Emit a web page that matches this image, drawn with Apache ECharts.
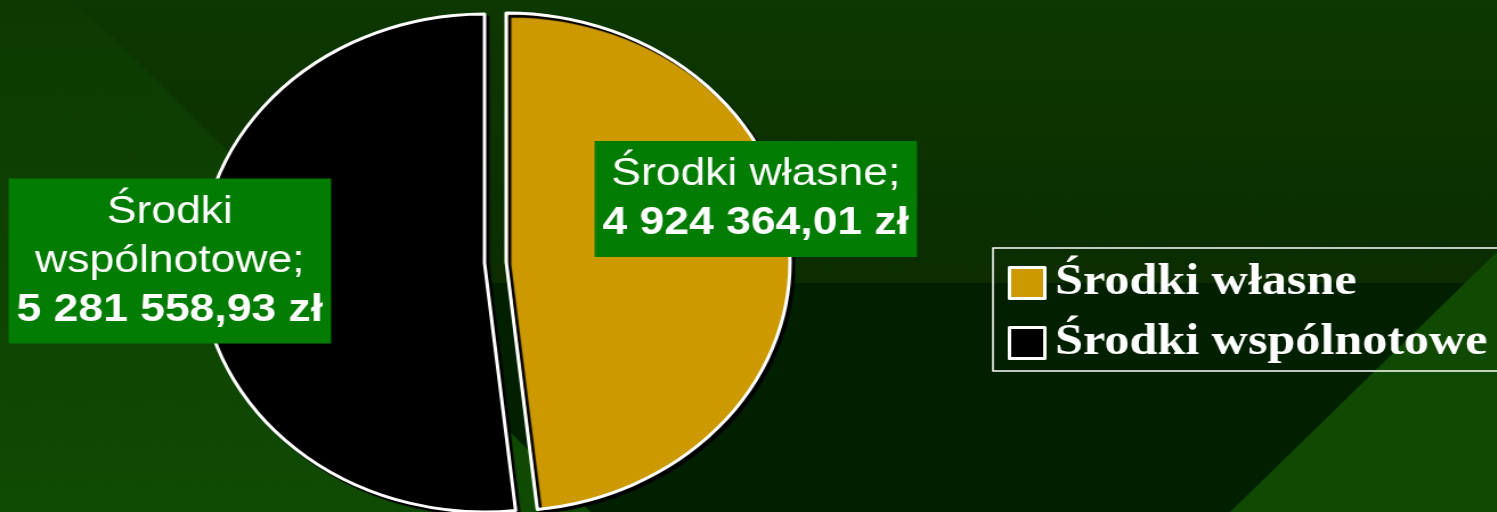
<!DOCTYPE html>
<html lang="pl">
<head>
    <meta charset="UTF-8">
    <title>Środki</title>
    <script src="https://cdn.jsdelivr.net/npm/echarts@6/dist/echarts.min.js"></script>
    <style>
        html, body { margin: 0; padding: 0; background: #0c3400; overflow: hidden; }
        /* the original slide is stretched sideways, so the whole chart is drawn narrower and scaled */
        #main { width: 1313px; height: 512px; transform: scaleX(1.14); transform-origin: 0 0; }
    </style>
</head>
<body>
    <div id="main"></div>
    <script type="text/javascript">
        // dane
        var categories = ['Środki własne', 'Środki wspólnotowe'];
        var values = [4924364.01, 5281558.93];
        var colors = ['#cc9900', '#000000'];

        // 4924364.01 -> "4 924 364,01 zł"
        function formatZl(v) {
            var parts = v.toFixed(2).split('.');
            var intPart = parts[0].replace(/\B(?=(\d{3})+(?!\d))/g, ' ');
            return intPart + ',' + parts[1] + ' zł';
        }

        // label box centres (chart coordinates, before the stretch)
        var labelSpots = [[663, 199], [149, 261]];

        var pieCenter = [425, 263];
        var pieRadius = 249;
        var explode = 19; // the gold slice is pulled out by this much

        // pull-out direction = middle angle of the first slice (clockwise from 12 o'clock)
        var total = values[0] + values[1];
        var midAngle = Math.PI * values[0] / total;
        var goldCenter = [
            pieCenter[0] + explode * Math.sin(midAngle),
            pieCenter[1] - explode * Math.cos(midAngle)
        ];

        var myChart = echarts.init(document.getElementById('main'));

        // one pie per slice, the other slice kept as an invisible placeholder
        function sliceData(visibleIndex) {
            return categories.map(function (name, i) {
                if (i === visibleIndex) {
                    return { name: name, value: values[i], itemStyle: { color: colors[i] } };
                }
                return {
                    name: name,
                    value: values[i],
                    itemStyle: { color: 'transparent', borderWidth: 0, shadowColor: 'transparent' },
                    label: { show: false }
                };
            });
        }

        var baseSeries = {
            type: 'pie',
            radius: pieRadius,
            startAngle: 90,
            clockwise: true,
            silent: true,
            itemStyle: {
                borderColor: '#ffffff',
                borderWidth: 3,
                shadowColor: '#000000',
                shadowBlur: 1,
                shadowOffsetX: 3,
                shadowOffsetY: 3
            },
            emphasis: { disabled: true },
            label: {
                show: true,
                position: 'inside',
                backgroundColor: '#027c02',
                padding: [9, 7],
                color: '#ffffff',
                fontFamily: 'Liberation Sans',
                formatter: function (p) {
                    var name = p.dataIndex === 1 ? p.name.replace(' ', '\n') : p.name;
                    var lines = name.split('\n');
                    lines[lines.length - 1] += ';';
                    return lines.map(function (l) { return '{n|' + l + '}'; }).join('\n') +
                        '\n{v|' + formatZl(p.value) + '}';
                },
                rich: {
                    n: { fontSize: 39, lineHeight: 49, color: '#ffffff', fontFamily: 'Liberation Sans', align: 'center' },
                    v: { fontSize: 39, lineHeight: 49, color: '#ffffff', fontFamily: 'Liberation Sans', fontWeight: 'bold', align: 'center' }
                }
            },
            labelLine: { show: false },
            labelLayout: function (params) {
                var spot = labelSpots[params.dataIndex];
                return { x: spot[0], y: spot[1], align: 'center', verticalAlign: 'middle' };
            }
        };

        var option = {
            animation: false,
            backgroundColor: '#0c3400',
            // background shapes of the slide
            graphic: [
                {
                    type: 'rect', z: 0, silent: true,
                    shape: { x: 0, y: 0, width: 1313, height: 512 },
                    style: {
                        fill: new echarts.graphic.LinearGradient(0, 0, 0, 1, [
                            { offset: 0, color: '#0d3801' },
                            { offset: 0.55, color: '#0b2d00' },
                            { offset: 1, color: '#0b2d00' }
                        ])
                    }
                },
                {
                    type: 'polygon', z: 0, silent: true,
                    shape: { points: [[314, 283], [1313, 283], [1313, 512], [518, 512]] },
                    style: { fill: '#012000' }
                },
                {
                    type: 'polygon', z: 0, silent: true,
                    shape: { points: [[0, 0], [62, 0], [96, 34], [518, 512], [0, 512]] },
                    style: {
                        fill: new echarts.graphic.LinearGradient(0, 0, 0, 1, [
                            { offset: 0, color: '#0d3a01' },
                            { offset: 1, color: '#104b03' }
                        ])
                    }
                },
                {
                    type: 'polygon', z: 0, silent: true,
                    shape: { points: [[1079, 512], [1313, 252], [1313, 512]] },
                    style: { fill: '#104a02' }
                }
            ],
            legend: {
                orient: 'vertical',
                left: 871,
                top: 248,
                padding: [8, 12, 1, 13],
                borderColor: '#ffffff',
                borderWidth: 1.5,
                itemWidth: 31,
                itemHeight: 31,
                itemGap: 6,
                icon: 'rect',
                selectedMode: false,
                itemStyle: {
                    borderColor: '#ffffff',
                    borderWidth: 3,
                    shadowBlur: 0,
                    shadowOffsetX: 0,
                    shadowOffsetY: 0,
                    shadowColor: 'transparent'
                },
                textStyle: {
                    color: '#ffffff',
                    fontFamily: 'Liberation Serif',
                    fontWeight: 'bold',
                    fontSize: 44,
                    lineHeight: 50,
                    padding: [4, 0, 0, 4]
                },
                data: categories.map(function (name, i) {
                    return { name: name, itemStyle: { color: colors[i] } };
                })
            },
            series: [
                echarts.util.merge({ center: pieCenter, data: sliceData(1) }, baseSeries),
                echarts.util.merge({ center: goldCenter, data: sliceData(0) }, baseSeries)
            ]
        };

        myChart.setOption(option);
    </script>
</body>
</html>
